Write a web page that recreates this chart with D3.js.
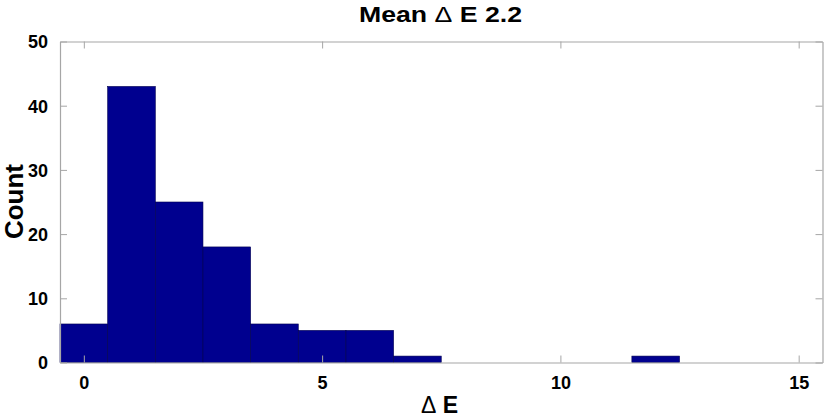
<!DOCTYPE html>
<html><head><meta charset="utf-8">
<script src="https://cdn.jsdelivr.net/npm/d3@7"></script>
<style>
html,body{margin:0;padding:0;background:#fff;}
text{font-family:"Liberation Sans",Arial,Helvetica,sans-serif;font-weight:bold;fill:#000;}
</style></head>
<body><svg id="c" width="825" height="419"></svg>
<script>
const binCenters = [0,1,2,3,4,5,6,7,8,9,10,11,12];
const counts = [6,43,25,18,6,5,5,1,0,0,0,0,1];
const binWidth = 1;
const xTicks = [0,5,10,15];
const yTicks = [0,10,20,30,40,50];
const titleText = "Mean \u0394 E 2.2";

const svg = d3.select("#c");
const L=60, R=822.5, T=41.5, B=362.5;
const x = d3.scaleLinear().domain([-0.5,15.5]).range([L,R]);
const y = d3.scaleLinear().domain([0,50]).range([B,T]);

// bars
svg.append("g").selectAll("rect").data(binCenters.map((c,i)=>({c,v:counts[i]})).filter(d=>d.v>0))
 .enter().append("rect")
 .attr("x",d=>x(d.c-binWidth/2)).attr("width",d=>x(d.c+binWidth/2)-x(d.c-binWidth/2))
 .attr("y",d=>y(d.v)).attr("height",d=>y(0)-y(d.v))
 .attr("fill","#00008f").attr("stroke","#000050").attr("stroke-width",0.6);

const axColor="#a6a6a6";
const tl=7;
const gx = svg.append("g").attr("transform",`translate(0,${B})`)
 .call(d3.axisBottom(x).tickValues(xTicks).tickSize(-tl).tickPadding(14).tickSizeOuter(0));
const gxt = svg.append("g").attr("transform",`translate(0,${T})`)
 .call(d3.axisTop(x).tickValues(xTicks).tickSize(-tl).tickFormat("").tickSizeOuter(0));
const gy = svg.append("g").attr("transform",`translate(${L},0)`)
 .call(d3.axisLeft(y).tickValues(yTicks).tickSize(-tl).tickPadding(12).tickSizeOuter(0));
const gyr = svg.append("g").attr("transform",`translate(${R},0)`)
 .call(d3.axisRight(y).tickValues(yTicks).tickSize(-tl).tickFormat("").tickSizeOuter(0));
[gx,gxt,gy,gyr].forEach(g=>{
  g.selectAll("path.domain").attr("stroke",axColor).attr("stroke-width",1.2);
  g.selectAll(".tick line").attr("stroke",axColor).attr("stroke-width",1);
  g.selectAll(".tick text").style("font-size","18px").style("font-weight","bold")
   .style("font-family",'"Liberation Sans",Arial,sans-serif').attr("fill","#000");
});
gx.selectAll(".tick text").attr("dy","0.71em");
gy.selectAll(".tick text").attr("dy","0.36em");

// title
const t = svg.append("text").attr("x",440.5).attr("y",22).attr("text-anchor","middle")
 .style("font-size","22px").attr("textLength",163).attr("lengthAdjust","spacingAndGlyphs");
t.append("tspan").text("Mean ");
t.append("tspan").style("font-weight","normal").text("\u0394");
t.append("tspan").text(" E 2.2");

// x label
const xl = svg.append("text").attr("x",439.5).attr("y",413).attr("text-anchor","middle").style("font-size","23px");
xl.append("tspan").style("font-weight","normal").text("\u0394");
xl.append("tspan").text(" E");

// y label
svg.append("text").attr("transform","translate(23,201.5) rotate(-90)").attr("text-anchor","middle")
 .style("font-size","26px").text("Count");
</script></body></html>
